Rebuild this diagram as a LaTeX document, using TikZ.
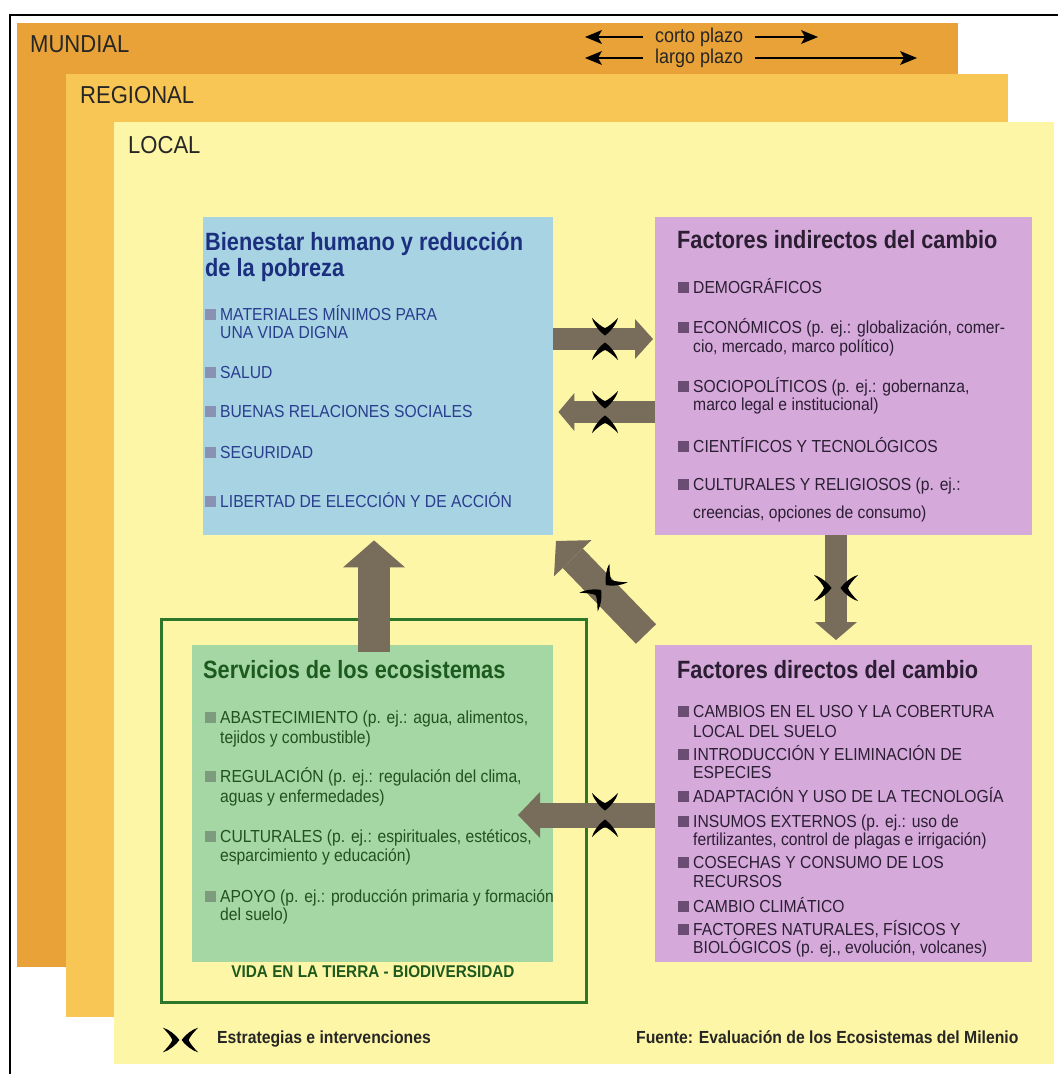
\documentclass[tikz,border=0pt]{standalone}
\usepackage{fontspec}
\setmainfont[FakeStretch=0.9]{Liberation Sans}
\newfontfamily\titlefont[FakeStretch=0.87]{Liberation Sans}
\usetikzlibrary{arrows.meta}
\definecolor{mund}{HTML}{E9A237}
\definecolor{regi}{HTML}{F7C655}
\definecolor{loca}{HTML}{FDF6A6}
\definecolor{bluebox}{HTML}{A7D3E3}
\definecolor{purbox}{HTML}{D5AADB}
\definecolor{grnbox}{HTML}{A4D7A4}
\definecolor{grnframe}{HTML}{2E772A}
\definecolor{arr}{HTML}{786C5A}
\definecolor{bluetitle}{HTML}{1B2F7E}
\definecolor{bluetext}{HTML}{2A3D8E}
\definecolor{bluebul}{HTML}{8A92B4}
\definecolor{purtext}{HTML}{2B1E33}
\definecolor{purbul}{HTML}{6B4C72}
\definecolor{grntitle}{HTML}{1C5A1E}
\definecolor{grntext}{HTML}{22501F}
\definecolor{grnbul}{HTML}{7D9C7D}
\tikzset{
  layerbox/.style={inner sep=0pt, anchor=north west, draw=none},
  box/.style={inner sep=0pt, anchor=north west, draw=none},
  lbl/.style={inner sep=0pt, anchor=base west, font=\fontsize{24.5}{26}\selectfont, text=black!85},
  ttl/.style={inner sep=0pt, anchor=base west, font=\titlefont\bfseries\fontsize{25}{26}\selectfont},
  txt/.style={inner sep=0pt, anchor=base west, font=\fontsize{17.4}{19}\selectfont},
  btxt/.style={inner sep=0pt, anchor=base west, font=\bfseries\fontsize{17.5}{19}\selectfont, text=black!85},
  tlbl/.style={inner sep=0pt, anchor=base west, font=\fontsize{20}{22}\selectfont, text=black!85},
  bul/.style={inner sep=0pt, minimum size=11pt, anchor=south west, fill=#1},
  blk/.style={draw=arr, line width=#1},
  tip/.style 2 args={-{Triangle[length=#1,width=#2,line width=0pt]}},
  timearr/.style={draw=black, line width=2.4pt, -{Stealth[length=17pt,width=14pt,inset=4pt,line width=0pt]}}
}
\newcommand\chev[4]{%
  \begin{scope}[shift={(#1,#2)}, rotate=#3, scale=#4]
  \fill[black] (-16,13) .. controls (-9,11) and (-2,5) .. (1.5,0) .. controls (-2,-5) and (-9,-11) .. (-16,-13) .. controls (-11,-8) and (-7,-3) .. (-6,0) .. controls (-7,3) and (-11,8) .. (-16,13) -- cycle;
  \end{scope}}
\begin{document}
\begin{tikzpicture}[x=1pt,y=-1pt]
\useasboundingbox (0,0) rectangle (1058,1074);
\fill[white] (0,0) rectangle (1058,1074);
% layers
\node[layerbox, fill=mund, minimum width=941pt, minimum height=944pt] (mundial) at (17,23) {};
\node[layerbox, fill=regi, minimum width=942pt, minimum height=943pt] (regional) at (66,74) {};
\node[layerbox, fill=loca, minimum width=940pt, minimum height=942pt] (local) at (114,122) {};
\draw[black, line width=2pt] (10,1074) -- (10,15) -- (1058,15);
\node[lbl] (tmund) at (30,52) {MUNDIAL};
\node[lbl] (treg) at (80,103) {REGIONAL};
\node[lbl] (tloc) at (128,153) {LOCAL};
% time scale
\node[tlbl] (corto) at (655,42) {corto plazo};
\node[tlbl] (largo) at (655,63) {largo plazo};
\coordinate (c1) at (585,37); \coordinate (c2) at (818,37);
\coordinate (l1) at (585,58); \coordinate (l2) at (917,58);
\draw[timearr] (corto.west |- c1) ++(-12,0) -- (c1);
\draw[timearr] (corto.east |- c2) ++(12,0) -- (c2);
\draw[timearr] (largo.west |- l1) ++(-12,0) -- (l1);
\draw[timearr] (largo.east |- l2) ++(12,0) -- (l2);
% boxes
\node[box, fill=bluebox, minimum width=350pt, minimum height=318pt] (blue) at (203,217) {};
\node[box, fill=purbox, minimum width=377pt, minimum height=318pt] (ind) at (655,217) {};
\node[box, fill=purbox, minimum width=377pt, minimum height=317pt] (dir) at (655,645) {};
\node[box, draw=grnframe, line width=3pt, minimum width=425pt, minimum height=383pt] (frame) at (160,618) {};
\node[box, fill=grnbox, minimum width=361pt, minimum height=317pt] (eco) at (192,645) {};
% arrows
\draw[blk=22pt, tip={18pt}{40pt}, shorten >=2pt] (blue.east |- 0,339) -- (ind.west |- 0,339);
\draw[blk=22pt, tip={16pt}{38pt}, shorten >=5pt] (ind.west |- 0,412) -- (blue.east |- 0,412);
\draw[blk=22pt, tip={18pt}{42pt}, shorten >=5pt] (ind.south -| 836,0) -- (dir.north -| 836,0);
\coordinate (dtail) at (646,634);
\coordinate (dtip) at (556,541);
\draw[blk=28pt, tip={24pt}{52pt}] (dtail) -- (dtip);
\coordinate (etip) at (518,815);
\draw[blk=25pt, tip={22pt}{46pt}] (dir.west |- 0,815) -- (etip);
\coordinate (utail) at (374,652);
\draw[blk=32pt, tip={27pt}{62pt}, shorten >=5pt] (utail) -- (blue.south -| utail);
% interventions
\chev{605}{334}{-90}{1}\chev{605}{344}{90}{1}
\chev{605}{407}{-90}{1}\chev{605}{417}{90}{1}
\chev{830}{588}{0}{1}\chev{842}{588}{180}{1}
\chev{607}{584}{224}{1}\chev{600}{591}{44}{1}
\chev{605}{809}{-90}{1}\chev{605}{821}{90}{1}
\chev{178}{1040}{0}{0.95}\chev{183}{1040}{180}{0.95}
% Bienestar
\node[ttl, text=bluetitle] (bt1) at (205,250) {Bienestar humano y reducción};
\node[ttl, text=bluetitle] (bt2) at (205,276) {de la pobreza};
\tikzset{bt/.style={txt, text=bluetext}}
\node[bul=bluebul] (bb1) at (205,320) {}; \node[bt] (b1) at (220,320) {MATERIALES MÍNIMOS PARA};
\node[bt] (b1b) at (220,338) {UNA VIDA DIGNA};
\node[bul=bluebul] (bb2) at (205,378) {}; \node[bt] (b2) at (220,378) {SALUD};
\node[bul=bluebul] (bb3) at (205,417) {}; \node[bt] (b3) at (220,417) {BUENAS RELACIONES SOCIALES};
\node[bul=bluebul] (bb4) at (205,458) {}; \node[bt] (b4) at (220,458) {SEGURIDAD};
\node[bul=bluebul] (bb5) at (205,507) {}; \node[bt] (b5) at (220,507) {LIBERTAD DE ELECCIÓN Y DE ACCIÓN};
% Indirect
\node[ttl, text=purtext] (it) at (677,248) {Factores indirectos del cambio};
\tikzset{pt/.style={txt, text=purtext}}
\node[bul=purbul] (ib1) at (678,293) {}; \node[pt] (i1) at (693,293) {DEMOGRÁFICOS};
\node[bul=purbul] (ib2) at (678,333) {}; \node[pt] (i2) at (693,333) {ECONÓMICOS (p. ej.: globalización, comer-};
\node[pt] (i2b) at (693,352) {cio, mercado, marco político)};
\node[bul=purbul] (ib3) at (678,392) {}; \node[pt] (i3) at (693,392) {SOCIOPOLÍTICOS (p. ej.: gobernanza,};
\node[pt] (i3b) at (693,410) {marco legal e institucional)};
\node[bul=purbul] (ib4) at (678,452) {}; \node[pt] (i4) at (693,452) {CIENTÍFICOS Y TECNOLÓGICOS};
\node[bul=purbul] (ib5) at (678,490) {}; \node[pt] (i5) at (693,490) {CULTURALES Y RELIGIOSOS (p. ej.:};
\node[pt] (i5b) at (693,518) {creencias, opciones de consumo)};
% Direct
\node[ttl, text=purtext] (dt) at (677,678) {Factores directos del cambio};
\node[bul=purbul] (db1) at (678,717) {}; \node[pt] (d1) at (693,717) {CAMBIOS EN EL USO Y LA COBERTURA};
\node[pt] (d1b) at (693,737) {LOCAL DEL SUELO};
\node[bul=purbul] (db2) at (678,760) {}; \node[pt] (d2) at (693,760) {INTRODUCCIÓN Y ELIMINACIÓN DE};
\node[pt] (d2b) at (693,778) {ESPECIES};
\node[bul=purbul] (db3) at (678,802) {}; \node[pt] (d3) at (693,802) {ADAPTACIÓN Y USO DE LA TECNOLOGÍA};
\node[bul=purbul] (db4) at (678,827) {}; \node[pt] (d4) at (693,827) {INSUMOS EXTERNOS (p. ej.: uso de};
\node[pt] (d4b) at (693,845) {fertilizantes, control de plagas e irrigación)};
\node[bul=purbul] (db5) at (678,868) {}; \node[pt] (d5) at (693,868) {COSECHAS Y CONSUMO DE LOS};
\node[pt] (d5b) at (693,887) {RECURSOS};
\node[bul=purbul] (db6) at (678,912) {}; \node[pt] (d6) at (693,912) {CAMBIO CLIMÁTICO};
\node[bul=purbul] (db7) at (678,935) {}; \node[pt] (d7) at (693,935) {FACTORES NATURALES, FÍSICOS Y};
\node[pt] (d7b) at (693,953) {BIOLÓGICOS (p. ej., evolución, volcanes)};
% Ecosystem services
\node[ttl, text=grntitle] (et) at (203,678) {Servicios de los ecosistemas};
\tikzset{gt/.style={txt, text=grntext}}
\node[bul=grnbul] (eb1) at (205,723) {}; \node[gt] (e1) at (220,723) {ABASTECIMIENTO (p. ej.: agua, alimentos,};
\node[gt] (e1b) at (220,743) {tejidos y combustible)};
\node[bul=grnbul] (eb2) at (205,782) {}; \node[gt] (e2) at (220,782) {REGULACIÓN (p. ej.: regulación del clima,};
\node[gt] (e2b) at (220,802) {aguas y enfermedades)};
\node[bul=grnbul] (eb3) at (205,842) {}; \node[gt] (e3) at (220,842) {CULTURALES (p. ej.: espirituales, estéticos,};
\node[gt] (e3b) at (220,861) {esparcimiento y educación)};
\node[bul=grnbul] (eb4) at (205,902) {}; \node[gt] (e4) at (220,902) {APOYO (p. ej.: producción primaria y formación};
\node[gt] (e4b) at (220,920) {del suelo)};
\node[inner sep=0pt, anchor=base, font=\bfseries\fontsize{17}{19}\selectfont, text=grntitle] (vida) at (373,977) {VIDA EN LA TIERRA - BIODIVERSIDAD};
% legend
\node[btxt] (leg) at (217,1043) {Estrategias e intervenciones};
\node[btxt] (src) at (636,1043) {Fuente: Evaluación de los Ecosistemas del Milenio};
\end{tikzpicture}
\end{document}
